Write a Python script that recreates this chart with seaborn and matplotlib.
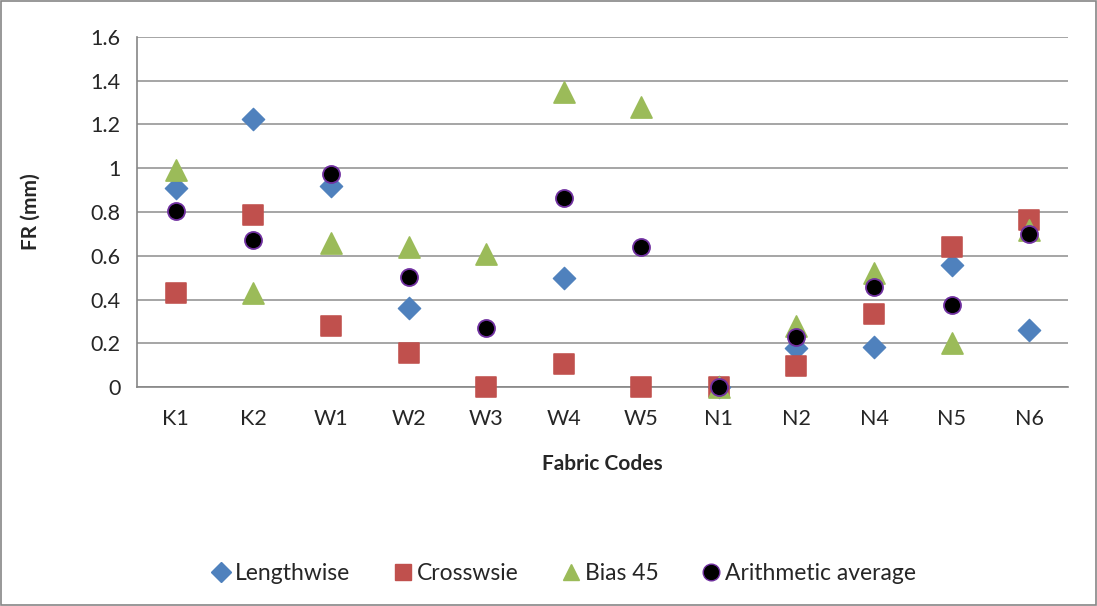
import numpy as np
import pandas as pd
import seaborn as sns
import matplotlib.pyplot as plt
from matplotlib.lines import Line2D
from matplotlib.patches import Rectangle

# fabric codes and FR values (mm)
codes = ['K1', 'K2', 'W1', 'W2', 'W3', 'W4', 'W5', 'N1', 'N2', 'N4', 'N5', 'N6']
lengthwise = [0.91, 1.225, 0.92, 0.36, np.nan, 0.50, np.nan, 0.0, 0.18, 0.185, 0.56, 0.26]
crosswise = [0.43, 0.785, 0.28, 0.155, 0.0, 0.105, 0.0, 0.0, 0.095, 0.335, 0.64, 0.765]
bias45 = [0.99, 0.43, 0.66, 0.64, 0.61, 1.35, 1.28, 0.0, 0.28, 0.52, 0.20, 0.72]
average = [0.805, 0.67, 0.975, 0.505, 0.27, 0.865, 0.64, 0.0, 0.23, 0.455, 0.375, 0.70]

series = ['Lengthwise', 'Crosswsie', 'Bias 45', 'Arithmetic average']

sns.set_style('white')
plt.rcParams['font.family'] = ['Lato', 'DejaVu Sans']

df = pd.DataFrame({'code': codes, 'Lengthwise': lengthwise, 'Crosswsie': crosswise,
                   'Bias 45': bias45, 'Arithmetic average': average})

fig = plt.figure(figsize=(10.97, 6.06), dpi=100)
ax = fig.add_axes([137 / 1097, 1 - 387 / 606, (1068 - 137) / 1097, (387 - 37) / 606])

styles = {
    'Lengthwise': dict(marker='D', color='#4F81BD', edgecolor='#4F81BD', s=130),
    'Crosswsie': dict(marker='s', color='#C0504D', edgecolor='#C0504D', s=210),
    'Bias 45': dict(marker='^', color='#9BBB59', edgecolor='#9BBB59', s=230),
    'Arithmetic average': dict(marker='o', color='black', edgecolor='#7030A0', s=150, linewidth=1.3),
}
for name in series:
    sns.scatterplot(data=df, x='code', y=name, ax=ax, zorder=3, clip_on=False, **styles[name])

ax.set_xlim(-0.5, len(codes) - 0.5)
ax.set_ylim(0, 1.6)
ax.set_yticks(np.arange(0, 1.61, 0.2))
ax.set_yticklabels(['0', '0.2', '0.4', '0.6', '0.8', '1', '1.2', '1.4', '1.6'])
ax.yaxis.grid(True, color='#969696', linewidth=1.2)
ax.set_axisbelow(True)

ax.set_xticks(range(len(codes)))
ax.set_xticklabels(codes)
ax.set_xticks(np.arange(-0.5, len(codes), 1), minor=True)
ax.tick_params(axis='x', which='major', length=0, pad=16, labelsize=15.5)
ax.tick_params(axis='x', which='minor', length=7, color='#868686', width=1.2, direction='out')
ax.tick_params(axis='y', length=6, color='#868686', width=1.2, direction='out', labelsize=15.5, pad=6)

for side in ['top', 'right']:
    ax.spines[side].set_visible(False)
for side in ['left', 'bottom']:
    ax.spines[side].set_color('#868686')
    ax.spines[side].set_linewidth(1.2)

ax.set_xlabel('Fabric Codes', fontsize=15, fontweight='bold', labelpad=18)
ax.set_ylabel('FR (mm)', fontsize=15, fontweight='bold', labelpad=36)

handles = [Line2D([], [], linestyle='none', marker=styles[n]['marker'],
                  markerfacecolor=styles[n]['color'], markeredgecolor=styles[n]['edgecolor'],
                  markersize=12 if n != 'Lengthwise' else 10) for n in series]
fig.legend(handles, series, loc='center', bbox_to_anchor=(0.51, 1 - 574 / 606), ncol=4,
           frameon=False, fontsize=16.5, handletextpad=-0.2, columnspacing=1.5,
           handlelength=1.6)

fig.add_artist(Rectangle((0.001, 0.001), 0.998, 0.998, transform=fig.transFigure,
                         fill=False, edgecolor='#868686', linewidth=1.2))

fig.savefig('out.png', dpi=100)
